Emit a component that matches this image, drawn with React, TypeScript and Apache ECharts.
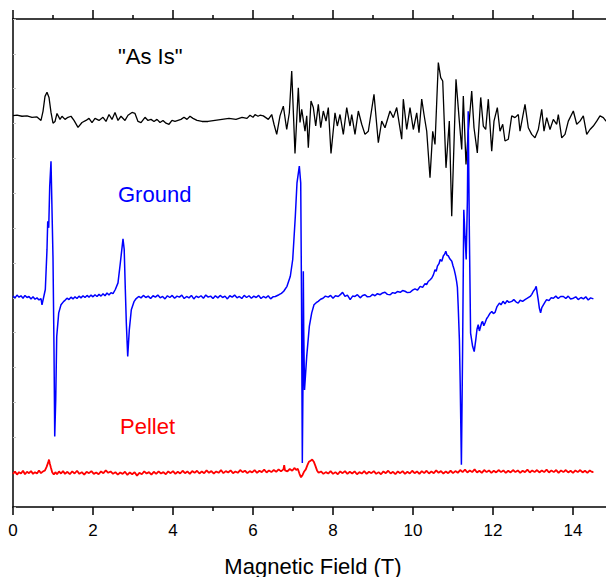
import React, { useEffect, useRef } from "react";
import * as echarts from "echarts";

// Magnetic field (T) vs. signal (arbitrary units, traces offset vertically)
const asIsData: [number, number][] = [
  [0,11.23],[0.1,11.24],[0.225,11.21],[0.35,11.22],[0.475,11.18],[0.6,11.19],[0.7,11.09],[0.75,11.35],[0.8,11.78],[0.85,11.90],[0.9,11.75],[0.95,11.32],[1.0,11.01],[1.05,11.06],[1.1,11.29],[1.175,11.12],[1.225,11.21],[1.3,11.12],[1.375,11.18],[1.45,11.21],[1.525,11.09],[1.625,10.89],[1.725,11.03],[1.825,11.09],[1.9,11.15],[1.975,11.03],[2.05,11.15],[2.15,11.09],[2.25,11.18],[2.325,11.06],[2.4,11.26],[2.475,11.12],[2.55,11.32],[2.625,11.09],[2.7,11.21],[2.8,11.09],[2.875,11.24],[2.975,11.32],[3.05,11.29],[3.125,11.06],[3.2,11.03],[3.3,11.18],[3.375,11.09],[3.45,11.12],[3.525,11.06],[3.6,11.12],[3.675,11.03],[3.75,11.09],[3.825,11.01],[3.9,10.98],[3.975,11.09],[4.05,11.06],[4.125,11.09],[4.2,11.12],[4.275,11.18],[4.35,11.12],[4.425,11.21],[4.5,11.15],[4.6,11.09],[4.725,11.06],[4.875,11.06],[5.05,11.09],[5.225,11.12],[5.4,11.15],[5.575,11.12],[5.725,11.18],[5.85,11.15],[5.925,11.24],[6.0,11.18],[6.05,11.26],[6.125,11.21],[6.175,11.24],
  [6.258,11.22],[6.383,11.12],[6.468,11.26],[6.525,10.98],[6.593,10.69],[6.675,11.22],[6.758,11.50],[6.843,10.83],[6.908,11.31],[6.968,12.51],[7.05,10.14],[7.133,12.03],[7.175,11.03],[7.218,11.41],[7.30,10.78],[7.343,11.22],[7.383,10.31],[7.45,11.65],[7.508,11.46],[7.568,10.93],[7.633,11.55],[7.693,10.88],[7.758,11.36],[7.825,11.07],[7.883,11.46],[7.95,10.14],[8.05,11.31],[8.108,10.93],[8.175,11.26],[8.258,10.69],[8.343,11.46],[8.425,10.93],[8.468,11.26],[8.55,10.69],[8.633,11.36],[8.718,10.98],[8.80,10.69],[8.883,10.78],[9.025,11.84],[9.133,10.45],[9.218,11.07],[9.30,10.88],[9.425,11.36],[9.508,11.17],[9.593,11.46],[9.718,10.55],[9.758,11.70],[9.843,10.83],[9.925,11.46],[10.008,10.83],[10.093,11.31],[10.15,10.74],[10.218,11.70],[10.275,11.26],[10.343,10.78],[10.425,9.45],[10.493,10.78],[10.55,10.40],[10.633,12.75],[10.693,12.32],[10.743,12.22],[10.825,9.73],[10.908,11.07],[10.968,8.34],[11.075,12.27],[11.158,11.07],[11.218,10.26],[11.258,11.79],[11.325,9.83],[11.383,10.78],[11.468,11.93],[11.525,10.88],[11.608,10.16],[11.693,11.75],[11.758,10.93],[11.818,10.83],[11.883,11.70],[11.968,10.21],[12.025,11.07],[12.108,11.46],[12.175,10.78],[12.243,10.98],[12.30,10.50],[12.383,10.55],[12.468,11.22],[12.55,11.17],[12.633,11.26],[12.675,10.78],[12.80,11.55],[12.883,10.88],[12.968,10.69],[13.05,10.59],[13.133,10.83],[13.218,11.41],[13.275,10.78],[13.343,11.17],[13.425,10.83],[13.508,11.12],[13.593,10.98],[13.633,11.26],[13.718,10.59],[13.80,10.69],[13.883,11.07],[14.008,11.36],[14.093,10.98],[14.175,11.07],[14.258,11.22],[14.343,10.69],[14.425,10.83],[14.508,10.93],[14.593,11.07],[14.675,11.22],[14.758,11.17],[14.825,11.07],[14.9,11.2],[15.0,11.1]
];

const groundData: [number, number][] = [
  [0,6.05],[0.05,6.0],[0.1,6.08],[0.15,6.02],[0.2,6.06],[0.25,5.99],[0.3,6.07],[0.35,6.01],[0.4,6.04],[0.45,5.97],[0.5,6.03],[0.55,5.96],[0.6,6.0],[0.65,5.94],[0.7,5.98],[0.725,5.80],
  [0.808,6.24],[0.85,7.39],[0.868,8.20],[0.893,8.01],[0.918,9.20],[0.95,9.92],[0.975,8.53],[1.0,7.15],[1.025,4.51],[1.043,2.02],[1.068,3.07],[1.093,4.89],[1.143,5.57],[1.2,5.80],[1.268,5.90],
  [1.3,5.93],[1.35,5.99],[1.4,5.95],[1.45,6.02],[1.5,5.97],[1.55,6.03],[1.6,5.98],[1.65,6.05],[1.7,6.0],[1.75,6.06],[1.8,6.01],[1.85,6.07],[1.9,6.02],[1.95,6.08],[2.0,6.03],[2.05,6.09],[2.1,6.04],[2.15,6.1],[2.2,6.05],[2.25,6.12],[2.3,6.06],[2.35,6.14],[2.4,6.08],[2.45,6.15],[2.5,6.12],
  [2.558,6.24],[2.625,6.43],[2.683,7.0],[2.75,7.69],[2.78,7.39],[2.808,6.24],[2.833,5.28],[2.868,4.32],[2.908,5.09],[2.958,5.66],[3.025,5.89],[3.08,5.98],[3.143,6.04],
  [3.2,6.0],[3.26,6.07],[3.32,6.01],[3.38,6.05],[3.44,5.98],[3.5,6.06],[3.56,6.02],[3.62,6.08],[3.68,6.0],[3.74,6.04],[3.8,5.97],[3.86,6.06],[3.92,6.01],[3.98,6.07],[4.04,5.99],[4.1,6.05],[4.16,6.02],[4.22,6.08],[4.28,5.98],[4.34,6.04],[4.4,6.0],[4.46,6.07],[4.52,5.97],[4.58,6.05],[4.64,6.01],[4.7,6.06],[4.76,5.99],[4.82,6.08],[4.88,6.02],[4.94,6.05],[5.0,5.98],[5.06,6.06],[5.12,6.0],[5.18,6.07],[5.24,6.01],[5.3,6.05],[5.36,5.97],[5.42,6.06],[5.48,6.02],[5.54,6.08],[5.6,6.0],[5.66,6.04],[5.72,5.98],[5.78,6.07],[5.84,6.01],[5.9,6.06],[5.96,5.99],[6.02,6.05],[6.08,6.01],[6.14,6.07],[6.2,5.98],[6.26,6.04],[6.32,6.0],[6.38,6.06],[6.44,5.97],[6.5,6.03],
  [6.558,6.04],[6.65,6.09],[6.71,6.13],[6.768,6.19],[6.85,6.33],[6.933,6.62],[6.993,7.10],[7.058,8.34],[7.10,9.30],[7.158,9.78],[7.193,9.30],[7.213,5.95],[7.233,1.26],[7.25,3.65],[7.258,6.76],[7.268,5.09],[7.288,3.36],[7.343,4.32],[7.408,5.18],[7.468,5.57],[7.525,5.80],[7.58,5.86],
  [7.63,5.90],[7.69,5.96],[7.75,5.99],[7.81,6.05],[7.88,6.02],[7.94,6.07],[8.0,5.99],[8.06,6.06],[8.13,6.04],[8.19,6.1],[8.24,6.16],[8.3,6.04],[8.36,6.08],[8.43,5.95],[8.49,6.05],[8.55,6.04],[8.61,6.09],[8.68,6.0],[8.74,6.07],[8.8,6.09],[8.86,6.03],[8.93,6.04],[8.99,6.1],[9.05,6.06],[9.11,6.12],[9.18,6.09],[9.24,6.14],[9.3,6.16],[9.36,6.1],[9.43,6.09],[9.49,6.15],[9.55,6.13],[9.61,6.18],[9.68,6.16],[9.74,6.21],[9.8,6.19],[9.86,6.15],[9.93,6.16],[9.99,6.22],[10.05,6.26],[10.11,6.22],[10.18,6.33],[10.24,6.3],[10.3,6.41],[10.34,6.38],[10.38,6.47],[10.43,6.52],[10.47,6.57],[10.51,6.66],[10.55,6.81],[10.58,6.76],[10.61,6.91],[10.65,6.98],[10.68,7.10],[10.72,7.05],[10.76,7.21],[10.79,7.25],[10.82,7.34],[10.85,7.22],[10.88,7.21],[10.92,7.12],[10.97,7.05],[11.0,6.92],[11.03,6.81],[11.06,6.66],[11.09,6.47],[11.11,6.3],[11.13,5.76],[11.16,4.8],[11.18,3.56],[11.21,1.21],[11.24,4.51],[11.27,8.53],[11.30,7.77],[11.33,7.10],[11.36,8.82],[11.38,11.35],[11.41,7.77],[11.44,4.99],[11.49,4.61],[11.53,4.46],[11.57,4.80],[11.6,5.1],[11.63,5.23],[11.66,5.05],[11.69,5.18],[11.72,5.3],[11.74,5.32],[11.77,5.2],[11.8,5.28],[11.84,5.4],[11.88,5.47],[11.92,5.55],[11.97,5.61],[12.01,5.55],[12.05,5.58],[12.1,5.75],[12.16,5.85],[12.2,5.8],[12.25,5.9],[12.3,5.83],[12.35,5.92],[12.4,5.87],[12.47,5.90],[12.52,5.95],[12.58,5.88],[12.63,5.85],[12.68,5.93],[12.74,5.9],[12.8,5.95],[12.86,5.99],[12.93,6.04],[12.97,6.1],[13.01,6.19],[13.05,6.25],[13.08,6.33],[13.11,6.1],[13.13,5.95],[13.16,5.7],[13.19,5.57],[13.22,5.72],[13.26,5.80],[13.3,5.88],[13.34,5.95],[13.4,5.92],[13.45,6.0],[13.51,5.99],[13.57,6.05],[13.63,5.98],[13.69,6.04],[13.76,6.04],[13.82,5.98],[13.88,6.05],[13.94,5.97],[14.01,5.99],[14.07,6.03],[14.13,5.95],[14.2,6.01],[14.26,5.97],[14.32,6.03],[14.38,5.94],[14.44,6.0],[14.51,5.97]
];

const pelletData: [number, number][] = [
  [0,0.95],[0.05,1.02],[0.1,0.93],[0.15,1.0],[0.2,0.96],[0.25,1.04],[0.3,0.94],[0.35,1.01],[0.4,0.97],[0.45,1.03],[0.5,0.95],[0.55,1.0],[0.6,0.96],[0.65,1.05],[0.7,0.97],[0.75,1.02],[0.8,1.05],[0.84,1.15],[0.88,1.28],[0.9,1.36],[0.92,1.25],[0.95,1.12],[0.98,1.0],[1.02,0.93],[1.06,1.0],[1.1,0.94],[1.15,1.02],[1.2,0.96],[1.25,1.03],[1.3,0.95],[1.36,1.01],[1.42,0.94],[1.48,1.02],[1.54,0.96],[1.6,1.04],[1.66,0.95],[1.72,1.0],[1.78,0.93],[1.84,1.01],[1.9,0.97],[1.96,1.03],[2.02,0.95],[2.08,0.99],[2.14,0.94],[2.2,1.02],[2.26,0.97],[2.32,1.05],[2.38,0.98],[2.44,1.02],[2.5,0.95],[2.56,1.0],[2.62,0.93],[2.68,0.99],[2.74,0.95],[2.8,1.01],[2.86,0.92],[2.92,0.99],[2.98,0.94],[3.04,1.0],[3.1,0.9],[3.16,0.98],[3.22,0.94],[3.28,1.02],[3.34,0.96],[3.4,1.0],[3.46,0.93],[3.52,1.01],[3.58,0.95],[3.64,1.02],[3.7,0.96],[3.76,1.0],[3.82,0.94],[3.88,1.02],[3.94,0.97],[4.0,1.03],[4.06,0.95],[4.12,1.01],[4.18,0.96],[4.24,1.04],[4.3,0.97],[4.36,1.02],[4.42,0.95],[4.48,1.03],[4.54,0.98],[4.6,1.04],[4.66,0.96],[4.72,1.02],[4.78,0.97],[4.84,1.05],[4.9,0.98],[4.96,1.03],[5.02,0.96],[5.08,1.02],[5.14,0.98],[5.2,1.06],[5.26,0.97],[5.32,1.03],[5.38,0.99],[5.44,1.05],[5.5,0.97],[5.56,1.02],[5.62,0.98],[5.68,1.06],[5.74,1.0],[5.8,1.04],[5.86,0.97],[5.92,1.03],[5.98,0.99],[6.04,1.06],[6.1,0.98],[6.16,1.04],[6.22,1.0],[6.28,1.07],[6.34,0.99],[6.4,1.05],[6.46,1.0],[6.52,1.06],[6.58,1.01],[6.64,1.08],[6.7,1.02],[6.76,1.08],[6.78,1.2],[6.8,1.05],[6.86,1.02],[6.92,1.09],[6.98,1.04],[7.04,1.12],[7.08,1.06],[7.12,1.1],[7.16,0.96],[7.2,0.85],[7.24,0.92],[7.28,1.02],[7.32,1.08],[7.36,1.2],[7.4,1.3],[7.44,1.33],[7.48,1.36],[7.52,1.3],[7.56,1.18],[7.6,1.05],[7.64,0.98],[7.7,1.02],[7.76,0.95],[7.82,1.0],[7.88,0.96],[7.94,1.03],[8.0,0.95],[8.06,1.0],[8.12,0.94],[8.18,1.02],[8.24,0.97],[8.3,1.03],[8.36,0.95],[8.42,1.01],[8.48,0.96],[8.54,1.02],[8.6,0.94],[8.66,1.0],[8.72,0.96],[8.78,1.03],[8.84,0.95],[8.9,1.01],[8.96,0.97],[9.02,1.03],[9.08,0.95],[9.14,1.0],[9.2,0.94],[9.26,1.02],[9.32,0.97],[9.38,1.04],[9.44,0.96],[9.5,1.01],[9.56,0.94],[9.62,1.02],[9.68,0.97],[9.74,1.03],[9.8,0.95],[9.86,1.01],[9.92,0.96],[9.98,1.04],[10.04,0.97],[10.1,1.02],[10.16,0.95],[10.22,1.03],[10.28,0.97],[10.34,1.04],[10.4,0.96],[10.46,1.02],[10.52,0.97],[10.58,1.05],[10.64,0.98],[10.7,1.03],[10.76,0.96],[10.82,1.02],[10.88,0.97],[10.94,1.04],[11.0,0.97],[11.06,1.03],[11.12,0.98],[11.18,1.06],[11.24,1.0],[11.3,1.07],[11.36,0.99],[11.42,1.05],[11.48,1.0],[11.54,1.08],[11.6,0.99],[11.66,1.04],[11.72,0.98],[11.78,1.06],[11.84,1.0],[11.9,1.05],[11.96,0.98],[12.02,1.04],[12.08,0.99],[12.14,1.06],[12.2,1.0],[12.26,1.05],[12.32,0.98],[12.38,1.04],[12.44,0.99],[12.5,1.06],[12.56,1.0],[12.62,1.05],[12.68,0.98],[12.74,1.04],[12.8,1.0],[12.86,1.07],[12.92,0.99],[12.98,1.05],[13.04,1.0],[13.1,1.06],[13.16,0.99],[13.22,1.05],[13.28,1.0],[13.34,1.07],[13.4,0.99],[13.46,1.05],[13.52,1.0],[13.58,1.06],[13.64,0.98],[13.7,1.05],[13.76,1.0],[13.82,1.06],[13.88,0.99],[13.94,1.04],[14.0,0.98],[14.06,1.05],[14.12,1.0],[14.18,1.06],[14.24,0.99],[14.3,1.04],[14.36,0.98],[14.42,1.05],[14.48,1.0],[14.51,1.02]
];

const traceLabels = ['"As Is"', "Ground", "Pellet"];
const traceColors = ["#000000", "#0000ff", "#ff0000"];
const xTitle = "Magnetic Field (T)";

const FONT = 'Arial, "Liberation Sans", sans-serif';

export default function App() {
  const ref = useRef<HTMLDivElement>(null);
  useEffect(() => {
    if (!ref.current) return;
    const chart = echarts.init(ref.current, null, { renderer: "svg" });
    const axisCommon = {
      type: "value" as const,
      min: 0,
      max: 16,
      interval: 2,
      splitLine: { show: false },
      minorSplitLine: { show: false },
    };
    chart.setOption({
      animation: false,
      backgroundColor: "#ffffff",
      grid: { left: 13, right: 0, top: 19, bottom: 70, containLabel: false, outerBoundsMode: "none" },
      xAxis: [
        {
          ...axisCommon,
          position: "bottom",
          axisLine: { show: true, onZero: false, lineStyle: { color: "#000", width: 1.5 } },
          axisTick: { show: true, inside: false, length: 8, lineStyle: { color: "#000", width: 1.5 } },
          minorTick: { show: true, splitNumber: 2, length: 4, lineStyle: { color: "#000", width: 1.5 } },
          axisLabel: { show: true, showMaxLabel: false, margin: 15, fontSize: 17, color: "#000", fontFamily: FONT },
        },
        {
          ...axisCommon,
          position: "top",
          axisLine: { show: true, onZero: false, lineStyle: { color: "#000", width: 1.5 } },
          axisTick: { show: true, inside: false, length: 9, lineStyle: { color: "#000", width: 1.5 } },
          minorTick: { show: true, splitNumber: 2, length: 4, lineStyle: { color: "#000", width: 1.5 } },
          axisLabel: { show: false },
        },
      ],
      yAxis: {
        type: "value",
        min: 0,
        max: 14,
        interval: 1,
        axisLine: { show: true, onZero: false, lineStyle: { color: "#000", width: 1.5 } },
        axisTick: { show: true, inside: true, length: 3, lineStyle: { color: "#c4c4c4", width: 1 } },
        axisLabel: { show: false },
        splitLine: { show: false },
      },
      series: [
        { type: "line", name: traceLabels[0], data: asIsData, showSymbol: false, symbol: "none", lineStyle: { color: traceColors[0], width: 1.3 }, xAxisIndex: 0 },
        { type: "line", name: traceLabels[1], data: groundData, showSymbol: false, symbol: "none", lineStyle: { color: traceColors[1], width: 1.5 }, xAxisIndex: 0 },
        { type: "line", name: traceLabels[2], data: pelletData, showSymbol: false, symbol: "none", lineStyle: { color: traceColors[2], width: 1.8 }, xAxisIndex: 0 },
      ],
      graphic: [
        { type: "text", x: 118, y: 56, style: { text: traceLabels[0], fill: traceColors[0], fontSize: 22, fontFamily: FONT, align: "left", verticalAlign: "middle" } },
        { type: "text", x: 118, y: 194, style: { text: traceLabels[1], fill: traceColors[1], fontSize: 22, fontFamily: FONT, align: "left", verticalAlign: "middle" } },
        { type: "text", x: 120, y: 426, style: { text: traceLabels[2], fill: traceColors[2], fontSize: 22, fontFamily: FONT, align: "left", verticalAlign: "middle" } },
        { type: "text", x: 313, y: 566, style: { text: xTitle, fill: "#000", fontSize: 22, fontFamily: FONT, align: "center", verticalAlign: "middle" } },
      ],
    });
    return () => chart.dispose();
  }, []);
  return (
    <div style={{ position: "absolute", left: 0, top: 0, width: 606, height: 577, overflow: "hidden", background: "#fff" }}>
      <div ref={ref} style={{ width: 653, height: 577 }} />
    </div>
  );
}
